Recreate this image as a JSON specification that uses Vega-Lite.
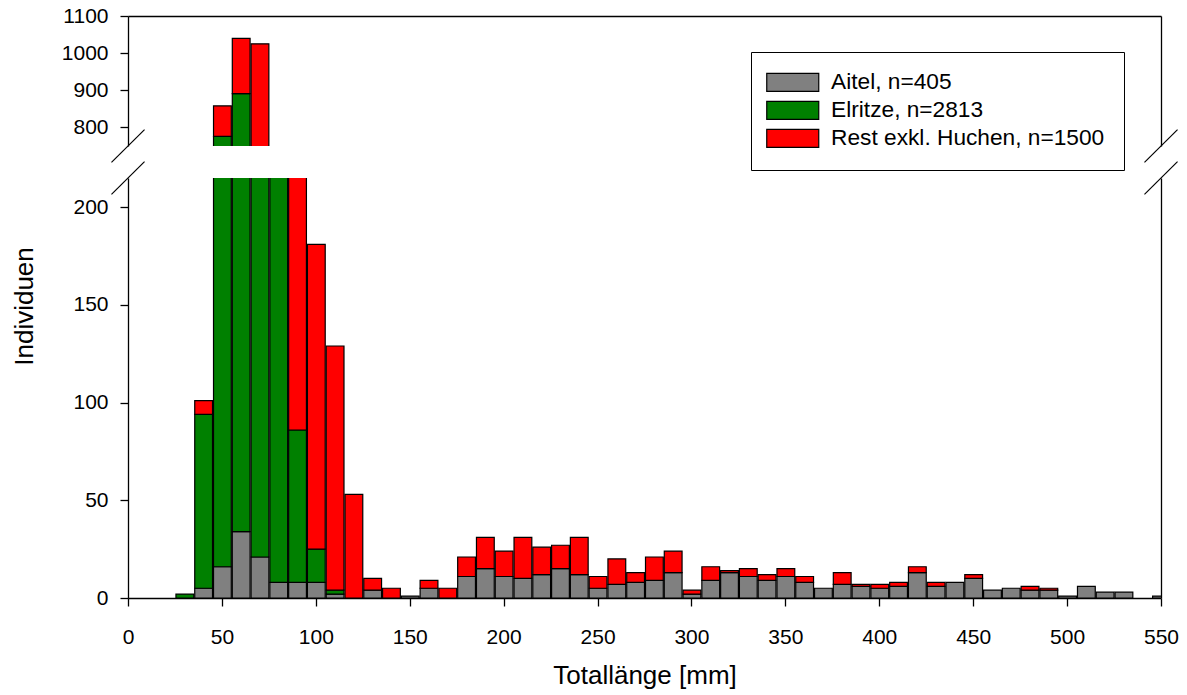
{
  "$schema": "https://vega.github.io/schema/vega-lite/v6.json",
  "background": "white",
  "padding": {"left": 10, "top": 5, "right": 5, "bottom": 5},
  "datasets": {
    "fische": [
      {"mm": 30, "Art": "Elritze, n=2813", "n": 2},
      {"mm": 40, "Art": "Aitel, n=405", "n": 5},
      {"mm": 40, "Art": "Elritze, n=2813", "n": 89},
      {"mm": 40, "Art": "Rest exkl. Huchen, n=1500", "n": 7},
      {"mm": 50, "Art": "Aitel, n=405", "n": 16},
      {"mm": 50, "Art": "Elritze, n=2813", "n": 760},
      {"mm": 50, "Art": "Rest exkl. Huchen, n=1500", "n": 82},
      {"mm": 60, "Art": "Aitel, n=405", "n": 34},
      {"mm": 60, "Art": "Elritze, n=2813", "n": 857},
      {"mm": 60, "Art": "Rest exkl. Huchen, n=1500", "n": 149},
      {"mm": 70, "Art": "Aitel, n=405", "n": 21},
      {"mm": 70, "Art": "Elritze, n=2813", "n": 690},
      {"mm": 70, "Art": "Rest exkl. Huchen, n=1500", "n": 314},
      {"mm": 80, "Art": "Aitel, n=405", "n": 8},
      {"mm": 80, "Art": "Elritze, n=2813", "n": 318},
      {"mm": 80, "Art": "Rest exkl. Huchen, n=1500", "n": 190},
      {"mm": 90, "Art": "Aitel, n=405", "n": 8},
      {"mm": 90, "Art": "Elritze, n=2813", "n": 78},
      {"mm": 90, "Art": "Rest exkl. Huchen, n=1500", "n": 209},
      {"mm": 100, "Art": "Aitel, n=405", "n": 8},
      {"mm": 100, "Art": "Elritze, n=2813", "n": 17},
      {"mm": 100, "Art": "Rest exkl. Huchen, n=1500", "n": 156},
      {"mm": 110, "Art": "Aitel, n=405", "n": 2},
      {"mm": 110, "Art": "Elritze, n=2813", "n": 2},
      {"mm": 110, "Art": "Rest exkl. Huchen, n=1500", "n": 125},
      {"mm": 120, "Art": "Rest exkl. Huchen, n=1500", "n": 53},
      {"mm": 130, "Art": "Aitel, n=405", "n": 4},
      {"mm": 130, "Art": "Rest exkl. Huchen, n=1500", "n": 6},
      {"mm": 140, "Art": "Rest exkl. Huchen, n=1500", "n": 5},
      {"mm": 150, "Art": "Aitel, n=405", "n": 1},
      {"mm": 160, "Art": "Aitel, n=405", "n": 5},
      {"mm": 160, "Art": "Rest exkl. Huchen, n=1500", "n": 4},
      {"mm": 170, "Art": "Rest exkl. Huchen, n=1500", "n": 5},
      {"mm": 180, "Art": "Aitel, n=405", "n": 11},
      {"mm": 180, "Art": "Rest exkl. Huchen, n=1500", "n": 10},
      {"mm": 190, "Art": "Aitel, n=405", "n": 15},
      {"mm": 190, "Art": "Rest exkl. Huchen, n=1500", "n": 16},
      {"mm": 200, "Art": "Aitel, n=405", "n": 11},
      {"mm": 200, "Art": "Rest exkl. Huchen, n=1500", "n": 13},
      {"mm": 210, "Art": "Aitel, n=405", "n": 10},
      {"mm": 210, "Art": "Rest exkl. Huchen, n=1500", "n": 21},
      {"mm": 220, "Art": "Aitel, n=405", "n": 12},
      {"mm": 220, "Art": "Rest exkl. Huchen, n=1500", "n": 14},
      {"mm": 230, "Art": "Aitel, n=405", "n": 15},
      {"mm": 230, "Art": "Rest exkl. Huchen, n=1500", "n": 12},
      {"mm": 240, "Art": "Aitel, n=405", "n": 12},
      {"mm": 240, "Art": "Rest exkl. Huchen, n=1500", "n": 19},
      {"mm": 250, "Art": "Aitel, n=405", "n": 5},
      {"mm": 250, "Art": "Rest exkl. Huchen, n=1500", "n": 6},
      {"mm": 260, "Art": "Aitel, n=405", "n": 7},
      {"mm": 260, "Art": "Rest exkl. Huchen, n=1500", "n": 13},
      {"mm": 270, "Art": "Aitel, n=405", "n": 8},
      {"mm": 270, "Art": "Rest exkl. Huchen, n=1500", "n": 5},
      {"mm": 280, "Art": "Aitel, n=405", "n": 9},
      {"mm": 280, "Art": "Rest exkl. Huchen, n=1500", "n": 12},
      {"mm": 290, "Art": "Aitel, n=405", "n": 13},
      {"mm": 290, "Art": "Rest exkl. Huchen, n=1500", "n": 11},
      {"mm": 300, "Art": "Aitel, n=405", "n": 2},
      {"mm": 300, "Art": "Rest exkl. Huchen, n=1500", "n": 2},
      {"mm": 310, "Art": "Aitel, n=405", "n": 9},
      {"mm": 310, "Art": "Rest exkl. Huchen, n=1500", "n": 7},
      {"mm": 320, "Art": "Aitel, n=405", "n": 13},
      {"mm": 320, "Art": "Rest exkl. Huchen, n=1500", "n": 1},
      {"mm": 330, "Art": "Aitel, n=405", "n": 11},
      {"mm": 330, "Art": "Rest exkl. Huchen, n=1500", "n": 4},
      {"mm": 340, "Art": "Aitel, n=405", "n": 9},
      {"mm": 340, "Art": "Rest exkl. Huchen, n=1500", "n": 3},
      {"mm": 350, "Art": "Aitel, n=405", "n": 11},
      {"mm": 350, "Art": "Rest exkl. Huchen, n=1500", "n": 4},
      {"mm": 360, "Art": "Aitel, n=405", "n": 8},
      {"mm": 360, "Art": "Rest exkl. Huchen, n=1500", "n": 3},
      {"mm": 370, "Art": "Aitel, n=405", "n": 5},
      {"mm": 380, "Art": "Aitel, n=405", "n": 7},
      {"mm": 380, "Art": "Rest exkl. Huchen, n=1500", "n": 6},
      {"mm": 390, "Art": "Aitel, n=405", "n": 6},
      {"mm": 390, "Art": "Rest exkl. Huchen, n=1500", "n": 1},
      {"mm": 400, "Art": "Aitel, n=405", "n": 5},
      {"mm": 400, "Art": "Rest exkl. Huchen, n=1500", "n": 2},
      {"mm": 410, "Art": "Aitel, n=405", "n": 6},
      {"mm": 410, "Art": "Rest exkl. Huchen, n=1500", "n": 2},
      {"mm": 420, "Art": "Aitel, n=405", "n": 13},
      {"mm": 420, "Art": "Rest exkl. Huchen, n=1500", "n": 3},
      {"mm": 430, "Art": "Aitel, n=405", "n": 6},
      {"mm": 430, "Art": "Rest exkl. Huchen, n=1500", "n": 2},
      {"mm": 440, "Art": "Aitel, n=405", "n": 8},
      {"mm": 450, "Art": "Aitel, n=405", "n": 10},
      {"mm": 450, "Art": "Rest exkl. Huchen, n=1500", "n": 2},
      {"mm": 460, "Art": "Aitel, n=405", "n": 4},
      {"mm": 470, "Art": "Aitel, n=405", "n": 5},
      {"mm": 480, "Art": "Aitel, n=405", "n": 4},
      {"mm": 480, "Art": "Rest exkl. Huchen, n=1500", "n": 2},
      {"mm": 490, "Art": "Aitel, n=405", "n": 4},
      {"mm": 490, "Art": "Rest exkl. Huchen, n=1500", "n": 1},
      {"mm": 500, "Art": "Aitel, n=405", "n": 1},
      {"mm": 510, "Art": "Aitel, n=405", "n": 6},
      {"mm": 520, "Art": "Aitel, n=405", "n": 3},
      {"mm": 530, "Art": "Aitel, n=405", "n": 3},
      {"mm": 550, "Art": "Aitel, n=405", "n": 1}
    ]
  },
  "bounds": "flush",
  "spacing": 32,
  "resolve": {"legend": {"color": "independent"}},
  "vconcat": [
    {
      "width": 1033,
      "height": 130,
      "data": {"name": "fische"},
      "resolve": {"axis": {"y": "independent"}},
      "layer": [
        {
          "mark": {"type": "bar", "clip": true, "stroke": "black", "strokeWidth": 1.2},
          "encoding": {
            "x": {"field": "mm", "type": "quantitative", "bin": {"step": 10, "anchor": 5, "extent": [25, 555], "nice": false},
                  "scale": {"domain": [0, 550], "nice": false, "zero": false},
                  "axis": {"orient": "top", "labels": false, "ticks": false, "title": null, "domain": true}},
            "y": {"aggregate": "sum", "field": "n", "type": "quantitative", "stack": "zero",
                  "scale": {"domain": [750, 1100], "nice": false, "zero": false},
                  "axis": {"values": [800, 900, 1000, 1100], "format": "d", "title": null, "labelPadding": 12}},
            "order": {"field": "Art", "type": "nominal", "sort": "ascending"},
            "color": {"field": "Art", "type": "nominal",
                      "scale": {"domain": ["Aitel, n=405", "Elritze, n=2813", "Rest exkl. Huchen, n=1500"], "range": ["#808080", "#008000", "#ff0000"]},
                      "legend": {"orient": "none", "legendX": 623, "legendY": 36, "title": null,
                                 "labelFont": "Liberation Sans", "labelFontSize": 22.7, "labelColor": "black", "labelLimit": 500,
                                 "symbolType": "M-2.889,-1H2.889V1H-2.889Z", "symbolSize": 324,
                                 "symbolOffset": 11.4,
                                 "symbolStrokeColor": "black", "symbolStrokeWidth": 1.2, "symbolOpacity": 1,
                                 "labelOffset": 27, "rowPadding": 3, "padding": 19,
                                 "strokeColor": "black", "fillColor": "white", "cornerRadius": 0}}
          }
        },
        {
          "data": {"values": [
            {"x1": -8.8, "x2": 8.8, "y1": 706, "y2": 794},
            {"x1": 541.2, "x2": 558.8, "y1": 706, "y2": 794}
          ]},
          "mark": {"type": "rule", "color": "black", "strokeWidth": 1.2},
          "encoding": {
            "x": {"field": "x1", "type": "quantitative", "axis": {"orient": "top", "labels": false, "ticks": false, "title": null, "domain": true}},
            "x2": {"field": "x2"},
            "y": {"field": "y1", "type": "quantitative", "scale": {"domain": [750, 1100], "nice": false, "zero": false},
                  "axis": {"orient": "right", "labels": false, "ticks": false, "title": null, "domain": true}},
            "y2": {"field": "y2"}
          }
        }
      ]
    },
    {
      "width": 1033,
      "height": 420,
      "data": {"name": "fische"},
      "resolve": {"axis": {"y": "independent"}},
      "layer": [
        {
          "mark": {"type": "bar", "clip": true, "stroke": "black", "strokeWidth": 1.2},
          "encoding": {
            "x": {"field": "mm", "type": "quantitative", "bin": {"step": 10, "anchor": 5, "extent": [25, 555], "nice": false},
                  "scale": {"domain": [0, 550], "nice": false, "zero": false},
                  "axis": {"orient": "bottom", "values": [0, 50, 100, 150, 200, 250, 300, 350, 400, 450, 500, 550],
                           "title": "Totallänge [mm]", "labelFlush": false, "labelPadding": 20, "titleY": 85, "titleBaseline": "alphabetic"}},
            "y": {"aggregate": "sum", "field": "n", "type": "quantitative", "stack": "zero",
                  "scale": {"domain": [0, 215], "nice": false, "zero": false},
                  "axis": {"values": [0, 50, 100, 150, 200], "format": "d", "title": "Individuen", "labelPadding": 12,
                           "titleX": -104, "titleY": 128, "titleBaseline": "middle", "titleAlign": "center"}},
            "order": {"field": "Art", "type": "nominal", "sort": "ascending"},
            "color": {"field": "Art", "type": "nominal",
                      "scale": {"domain": ["Aitel, n=405", "Elritze, n=2813", "Rest exkl. Huchen, n=1500"], "range": ["#808080", "#008000", "#ff0000"]},
                      "legend": null}
          }
        },
        {
          "data": {"values": [
            {"x1": -8.8, "x2": 8.8, "y1": 206.6, "y2": 223.4},
            {"x1": 541.2, "x2": 558.8, "y1": 206.6, "y2": 223.4}
          ]},
          "mark": {"type": "rule", "color": "black", "strokeWidth": 1.2},
          "encoding": {
            "x": {"field": "x1", "type": "quantitative",
                  "axis": {"orient": "bottom", "values": [0, 50, 100, 150, 200, 250, 300, 350, 400, 450, 500, 550],
                           "title": "Totallänge [mm]", "labelFlush": false, "labelPadding": 20, "titleY": 85, "titleBaseline": "alphabetic"}},
            "x2": {"field": "x2"},
            "y": {"field": "y1", "type": "quantitative", "scale": {"domain": [0, 215], "nice": false, "zero": false},
                  "axis": {"orient": "right", "labels": false, "ticks": false, "title": null, "domain": true}},
            "y2": {"field": "y2"}
          }
        }
      ]
    }
  ],
  "config": {
    "view": {"stroke": null},
    "axis": {
      "grid": false,
      "domainColor": "black", "domainWidth": 1.3,
      "tickColor": "black", "tickWidth": 1.3, "tickSize": 8,
      "labelColor": "black", "labelFont": "Liberation Sans", "labelFontSize": 21,
      "titleColor": "black", "titleFont": "Liberation Sans", "titleFontSize": 26, "titleFontWeight": "normal"
    }
  }
}
